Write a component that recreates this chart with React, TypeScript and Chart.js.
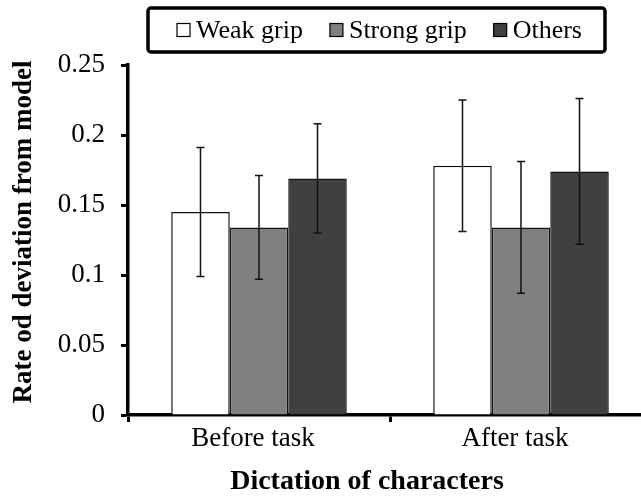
import React, { useEffect, useRef } from "react";
import { Chart, registerables } from "chart.js";
Chart.register(...registerables);

const categories = ["Before task", "After task"];
const seriesNames = ["Weak grip", "Strong grip", "Others"];
const weakGrip = [0.145, 0.178];
const strongGrip = [0.134, 0.134];
const others = [0.169, 0.174];
const weakGripErr = [0.046, 0.047];
const strongGripErr = [0.037, 0.047];
const othersErr = [0.039, 0.052];
const yTicks = [0, 0.05, 0.1, 0.15, 0.2, 0.25];
const yTitle = "Rate od deviation from model";
const xTitle = "Dictation of characters";

const FONT = "'Liberation Serif', 'Times New Roman', serif";
const fills = ["#ffffff", "#808080", "#404040"];

const errorBarPlugin = {
  id: "errorBars",
  afterDatasetsDraw(chart: any) {
    const ctx = chart.ctx;
    const y = chart.scales.y;
    chart.data.datasets.forEach((ds: any, di: number) => {
      const meta = chart.getDatasetMeta(di);
      meta.data.forEach((bar: any, i: number) => {
        const v = ds.data[i];
        const e = ds.errors[i];
        const yTop = y.getPixelForValue(v + e);
        const yBot = y.getPixelForValue(v - e);
        ctx.save();
        ctx.strokeStyle = "#111";
        ctx.lineWidth = 1.5;
        ctx.beginPath();
        ctx.moveTo(bar.x, yTop);
        ctx.lineTo(bar.x, yBot);
        ctx.moveTo(bar.x - 4, yTop);
        ctx.lineTo(bar.x + 4, yTop);
        ctx.moveTo(bar.x - 4, yBot);
        ctx.lineTo(bar.x + 4, yBot);
        ctx.stroke();
        ctx.restore();
      });
    });
  },
};

const decorPlugin = {
  id: "decor",
  afterDraw(chart: any) {
    const ctx = chart.ctx;
    ctx.save();
    // Legend frame
    const lx = 148, ly = 8, lw = 457, lh = 44;
    ctx.lineWidth = 3.5;
    ctx.strokeStyle = "#000";
    ctx.beginPath();
    if (ctx.roundRect) ctx.roundRect(lx, ly, lw, lh, 3);
    else ctx.rect(lx, ly, lw, lh);
    ctx.stroke();
    // Legend items
    ctx.font = `26px ${FONT}`;
    ctx.textBaseline = "middle";
    ctx.textAlign = "left";
    let x = 177;
    const cy = 30;
    chart.data.datasets.forEach((ds: any) => {
      ctx.fillStyle = ds.backgroundColor;
      ctx.fillRect(x, cy - 6.5, 13, 13);
      ctx.lineWidth = 1.2;
      ctx.strokeStyle = "#000";
      ctx.strokeRect(x, cy - 6.5, 13, 13);
      ctx.fillStyle = "#000";
      ctx.fillText(ds.label, x + 19, cy + 1);
      x += 19 + ctx.measureText(ds.label).width + 27;
    });
    // Axis titles
    ctx.font = `bold 27px ${FONT}`;
    ctx.textAlign = "center";
    ctx.textBaseline = "middle";
    ctx.fillStyle = "#000";
    ctx.save();
    ctx.translate(24, 232);
    ctx.rotate(-Math.PI / 2);
    ctx.fillText(yTitle, 0, 0);
    ctx.restore();
    ctx.font = `bold 28px ${FONT}`;
    ctx.fillText(xTitle, 367, 482);
    ctx.restore();
  },
};

export default function App() {
  const ref = useRef<HTMLCanvasElement | null>(null);
  useEffect(() => {
    if (!ref.current) return;
    const chart = new Chart(ref.current, {
      type: "bar",
      data: {
        labels: categories,
        datasets: [
          { label: seriesNames[0], data: weakGrip, errors: weakGripErr },
          { label: seriesNames[1], data: strongGrip, errors: strongGripErr },
          { label: seriesNames[2], data: others, errors: othersErr },
        ].map((d: any, i) => ({
          ...d,
          backgroundColor: fills[i],
          borderColor: "#111",
          borderWidth: 1.5,
          categoryPercentage: 0.67,
          barPercentage: 1,
        })) as any,
      },
      options: {
        animation: false,
        responsive: false,
        layout: { padding: { left: 0, top: 65, right: 8, bottom: 0 } },
        plugins: { legend: { display: false }, tooltip: { enabled: false } },
        font: { family: FONT },
        scales: {
          x: {
            z: 1,
            offset: true,
            grid: {
              display: true,
              drawOnChartArea: false,
              drawTicks: true,
              tickLength: 7,
              tickWidth: 3,
              color: "#000",
              offset: true,
            },
            border: { display: true, color: "#000", width: 3.5 },
            ticks: {
              color: "#000",
              font: { family: FONT, size: 27 },
              padding: 1,
              labelOffset: -6,
              maxRotation: 0,
            },
            afterFit(scale: any) {
              scale.height = 81;
            },
          },
          y: {
            z: 1,
            min: 0,
            max: 0.25,
            afterBuildTicks(scale: any) {
              scale.ticks = yTicks.map((v) => ({ value: v }));
            },
            grid: {
              display: true,
              drawOnChartArea: false,
              drawTicks: true,
              tickLength: 7,
              tickWidth: 3,
              color: "#000",
            },
            border: { display: true, color: "#000", width: 3.5 },
            ticks: {
              color: "#000",
              font: { family: FONT, size: 27 },
              padding: 16,
              callback: (v: any) => String(Math.round(Number(v) * 100) / 100),
            },
            afterFit(scale: any) {
              scale.width = 128;
            },
          },
        },
      } as any,
      plugins: [errorBarPlugin, decorPlugin],
    });
    return () => chart.destroy();
  }, []);
  return (
    <div
      style={{
        position: "fixed",
        left: 0,
        top: 0,
        width: 641,
        height: 496,
        overflow: "hidden",
        background: "#fff",
      }}
    >
      <canvas ref={ref} width={660} height={496} style={{ width: 660, height: 496, display: "block" }} />
    </div>
  );
}
